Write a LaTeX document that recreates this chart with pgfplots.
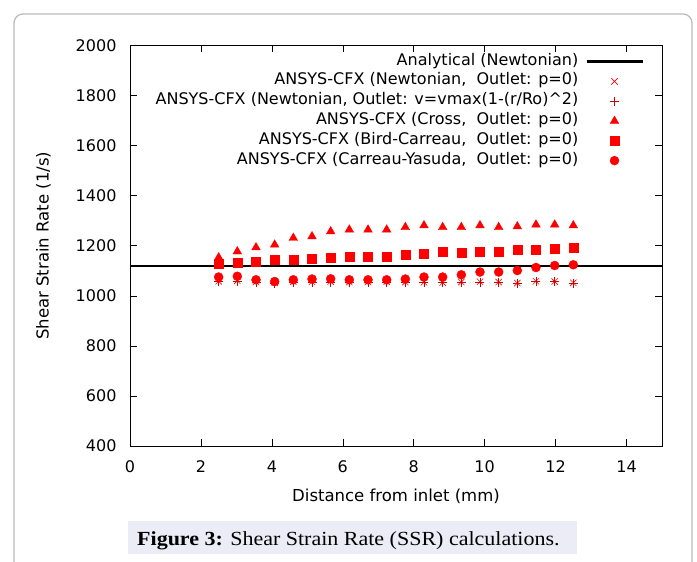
\documentclass[border=0pt]{standalone}
\usepackage{fontspec}
\setmainfont{DejaVu Sans}
\newfontfamily\capfont[FakeStretch=1.1]{Liberation Serif}
\usepackage{pgfplots}
\pgfplotsset{compat=1.18}
\definecolor{capbg}{HTML}{ECECF6}
\definecolor{framegray}{HTML}{BBBBBB}

\begin{document}
\begin{tikzpicture}
\useasboundingbox (0pt,0pt) rectangle (697pt,562pt);
\clip (0pt,0pt) rectangle (697pt,562pt);
% outer frame and caption box
\draw[framegray, line width=1.2pt, rounded corners=9pt] (14pt,-20pt) -- (14pt,548pt) -- (692pt,548pt) -- (692pt,-20pt);
\fill[capbg] (128pt,8pt) rectangle (577pt,41pt);
\node[anchor=base west, inner sep=0pt] at (137pt,16.3pt)
  {\capfont\fontsize{20}{24}\selectfont\textbf{Figure 3:} Shear Strain Rate (SSR) calculations.};

\begin{axis}[
    at={(130pt,116pt)}, anchor=south west,
    scale only axis,
    width=532pt, height=400.5pt,
    xmin=0, xmax=15, ymin=400, ymax=2000,
    xtick={0,2,...,14},
    ytick={400,600,...,2000},
    tick align=inside, tick pos=both,
    major tick length=7pt,
    every tick/.style={black, line width=0.6pt},
    axis line style={black, line width=0.8pt},
    /pgf/number format/assume math mode=true,
    /pgf/number format/1000 sep={},
    tick label style={font=\fontsize{16}{18}\selectfont},
    xticklabel style={yshift=-11pt},
    yticklabel style={xshift=-10pt},
    xlabel={Distance from inlet (mm)},
    ylabel={Shear Strain Rate (1/s)},
    label style={font=\fontsize{16.5}{19}\selectfont},
    xlabel style={yshift=-9pt},
    ylabel style={yshift=18pt},
    legend plot pos=right,
    legend cell align=right,
    legend image code/.code={\draw[mark repeat=2,mark phase=2,#1] plot coordinates {(0pt,0pt) (28pt,0pt) (56pt,0pt)};},
    legend style={at={(axis description cs:0.966,0.984)}, anchor=north east,
        draw=none, fill=none, inner sep=0pt, row sep=0.8pt, column sep=5pt,
        font=\fontsize{16}{18}\selectfont,
        nodes={inner sep=2pt, text height=11pt, text depth=4pt}},
]
% Analytical (Newtonian)
\addplot[black, line width=2.4pt] coordinates {(0,1120) (15,1120)};
\addlegendentry{Analytical (Newtonian)}

% Newtonian, outlet p=0
\addplot[only marks, mark=x, mark size=4.5pt, red, line width=0.6pt] coordinates {
(2.5,1058) (3.026,1060) (3.553,1055) (4.079,1052) (4.605,1056)
(5.132,1056) (5.658,1057) (6.184,1055) (6.711,1055) (7.237,1056)
(7.763,1055) (8.289,1054) (8.816,1053) (9.342,1055) (9.868,1056)
(10.395,1055) (10.921,1051) (11.447,1058) (11.974,1057) (12.5,1052)
};
\addlegendentry{ANSYS-CFX (Newtonian,\ \ Outlet: p=0)}

% Newtonian, parabolic outlet
\addplot[only marks, mark=+, mark size=4.5pt, red!80!black, line width=0.6pt] coordinates {
(2.5,1056) (3.026,1058) (3.553,1054) (4.079,1050) (4.605,1054)
(5.132,1055) (5.658,1055) (6.184,1053) (6.711,1054) (7.237,1054)
(7.763,1053) (8.289,1053) (8.816,1052) (9.342,1053) (9.868,1055)
(10.395,1054) (10.921,1050) (11.447,1057) (11.974,1056) (12.5,1051)
};
\addlegendentry{ANSYS-CFX (Newtonian, Outlet: v=vmax(1-(r/Ro)\textasciicircum 2)}

% Cross
\addplot[only marks, mark=triangle*, mark size=5pt, red] coordinates {
(2.5,1153) (3.026,1177) (3.553,1193) (4.079,1204) (4.605,1231)
(5.132,1237) (5.658,1257) (6.184,1264) (6.711,1264) (7.237,1264)
(7.763,1274) (8.289,1281) (8.816,1274) (9.342,1274) (9.868,1281)
(10.395,1274) (10.921,1277) (11.447,1284) (11.974,1284) (12.5,1281)
};
\addlegendentry{ANSYS-CFX (Cross,\ \ Outlet: p=0)}

% Bird-Carreau
\addplot[only marks, mark=square*, mark size=4.5pt, red] coordinates {
(2.5,1127) (3.026,1131) (3.553,1137) (4.079,1143) (4.605,1145)
(5.132,1148) (5.658,1151) (6.184,1155) (6.711,1155) (7.237,1157)
(7.763,1164) (8.289,1167) (8.816,1175) (9.342,1171) (9.868,1175)
(10.395,1177) (10.921,1185) (11.447,1184) (11.974,1189) (12.5,1193)
};
\addlegendentry{ANSYS-CFX (Bird-Carreau,\ \ Outlet: p=0)}

% Carreau-Yasuda
\addplot[only marks, mark=*, mark size=4.5pt, red] coordinates {
(2.5,1075) (3.026,1078) (3.553,1064) (4.079,1057) (4.605,1064)
(5.132,1067) (5.658,1068) (6.184,1064) (6.711,1064) (7.237,1064)
(7.763,1067) (8.289,1075) (8.816,1075) (9.342,1084) (9.868,1095)
(10.395,1095) (10.921,1101) (11.447,1113) (11.974,1121) (12.5,1124)
};
\addlegendentry{ANSYS-CFX (Carreau-Yasuda,\ \ Outlet: p=0)}
\end{axis}
\end{tikzpicture}
\end{document}
